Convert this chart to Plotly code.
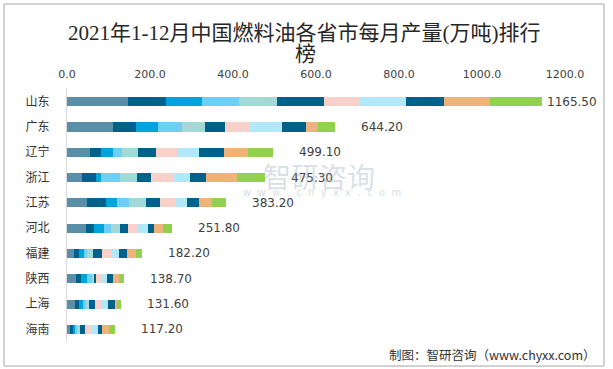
import plotly.graph_objects as go

provinces = ["山东", "广东", "辽宁", "浙江", "江苏", "河北", "福建", "陕西", "上海", "海南"]
months = ["1-2月", "3月", "4月", "5月", "6月", "7月", "8月", "9月", "10月", "11月", "12月"]

m1_2 = [147.6, 111.5, 56.1, 36.8, 48.9, 46.5, 17.6, 22.4, 20.0, 8.0]
m3 = [91.5, 55.4, 26.5, 33.7, 45.8, 19.3, 12.0, 12.0, 9.6, 7.2]
m4 = [86.7, 53.0, 28.9, 12.0, 26.5, 24.1, 12.0, 14.4, 9.6, 4.8]
m5 = [89.1, 57.8, 21.7, 45.8, 28.9, 16.9, 7.2, 12.0, 7.2, 4.8]
m6 = [91.5, 55.4, 38.5, 40.9, 40.9, 21.7, 14.4, 4.8, 7.2, 7.2]
m7 = [113.2, 48.2, 43.3, 33.7, 33.7, 19.3, 21.7, 4.8, 14.4, 12.0]
m8 = [85.0, 60.2, 50.6, 55.4, 36.1, 24.1, 21.7, 12.0, 14.4, 16.9]
m9 = [112.4, 77.1, 53.0, 38.5, 28.9, 24.1, 19.3, 14.4, 16.9, 14.4]
m10 = [91.5, 57.8, 60.2, 38.5, 28.9, 14.4, 19.3, 14.4, 16.9, 9.6]
m11 = [110.8, 28.9, 57.8, 74.6, 31.3, 21.7, 21.7, 14.4, 4.8, 16.9]
m12 = [125.2, 40.9, 59.5, 67.4, 33.0, 20.9, 13.7, 12.0, 9.6, 14.4]

totals = [1165.50, 644.20, 499.10, 475.30, 383.20, 251.80, 182.20, 138.70, 131.60, 117.20]
x_ticks = [0, 200, 400, 600, 800, 1000, 1200]

series = [m1_2, m3, m4, m5, m6, m7, m8, m9, m10, m11, m12]
colors = ["#5B8FA8", "#00628A", "#00A3DB", "#6DCFF6", "#A2D8D6", "#00628A",
          "#F9D1C8", "#B3E8FA", "#00628A", "#EEB27B", "#92D050"]

fig = go.Figure()
for name, vals, c in zip(months, series, colors):
    fig.add_trace(go.Bar(y=provinces, x=vals, name=name, orientation="h",
                         marker=dict(color=c, line=dict(width=0))))

bar_ends = [sum(s[i] for s in series) for i in range(len(provinces))]
max_i = bar_ends.index(max(bar_ends))
for i, p in enumerate(provinces):
    fig.add_annotation(x=bar_ends[i], y=p, xref="x", yref="y",
                       text=f"{totals[i]:.2f}", showarrow=False,
                       xanchor="left", xshift=3 if i == max_i else 24,
                       font=dict(size=12, color="#404040", family="DejaVu Sans, Noto Sans CJK SC"))

title_font = "Liberation Serif, Noto Sans CJK SC"
fig.add_annotation(text="2021年1-12月中国燃料油各省市每月产量(万吨)排行",
                   xref="paper", yref="paper", x=0.475, y=1.221, xanchor="center", yanchor="middle",
                   showarrow=False, font=dict(size=21, color="#262626", family=title_font))
fig.add_annotation(text="榜",
                   xref="paper", yref="paper", x=0.478, y=1.140, xanchor="center", yanchor="middle",
                   showarrow=False, font=dict(size=21, color="#262626", family=title_font))

fig.add_annotation(text="制图：智研咨询（www.chyxx.com）", xref="paper", yref="paper",
                   x=1.066, y=-0.048, xanchor="right", yanchor="middle", showarrow=False,
                   font=dict(size=12.5, color="#333333", family="Noto Sans CJK SC"))

# watermark
fig.add_annotation(text="智研咨询", xref="paper", yref="paper", x=0.39, y=0.655,
                   xanchor="left", yanchor="middle", showarrow=False,
                   font=dict(size=28, color="rgba(150,165,180,0.35)", family="Noto Sans CJK SC"))
fig.add_annotation(text="w  w  w  .  c  h  y  x  x  .  c  o  m", xref="paper", yref="paper",
                   x=0.35, y=0.59, xanchor="left", yanchor="middle", showarrow=False,
                   font=dict(size=10, color="rgba(150,165,180,0.4)", family="DejaVu Sans"))

# outer frame
fig.add_shape(type="rect", xref="paper", yref="paper",
              x0=-0.1265, x1=1.0783, y0=-0.095, y1=1.336,
              line=dict(color="#A6A6A6", width=1), fillcolor="rgba(0,0,0,0)")

fig.update_layout(
    width=613, height=369,
    margin=dict(l=67, r=48, t=89, b=27, autoexpand=False),
    barmode="stack", bargap=0.64,
    showlegend=False,
    plot_bgcolor="white", paper_bgcolor="white",
    xaxis=dict(side="top", range=[0, 1200], tickvals=x_ticks, tickformat=".1f",
               showgrid=False, zeroline=False, showline=False, ticks="",
               automargin=False, ticklabelstandoff=8,
               tickfont=dict(size=11, color="#404040", family="DejaVu Sans"),
               fixedrange=True),
    yaxis=dict(autorange="reversed", showgrid=False, zeroline=False,
               showline=True, linecolor="#D9D9D9", linewidth=1, ticks="",
               ticklabelstandoff=14, automargin=False,
               tickfont=dict(size=12, color="#333333", family="Noto Sans CJK SC"),
               fixedrange=True),
)

fig.write_html("out.html", config={"displayModeBar": False},
               post_script="document.body.style.margin='0';document.body.style.overflow='hidden';")
